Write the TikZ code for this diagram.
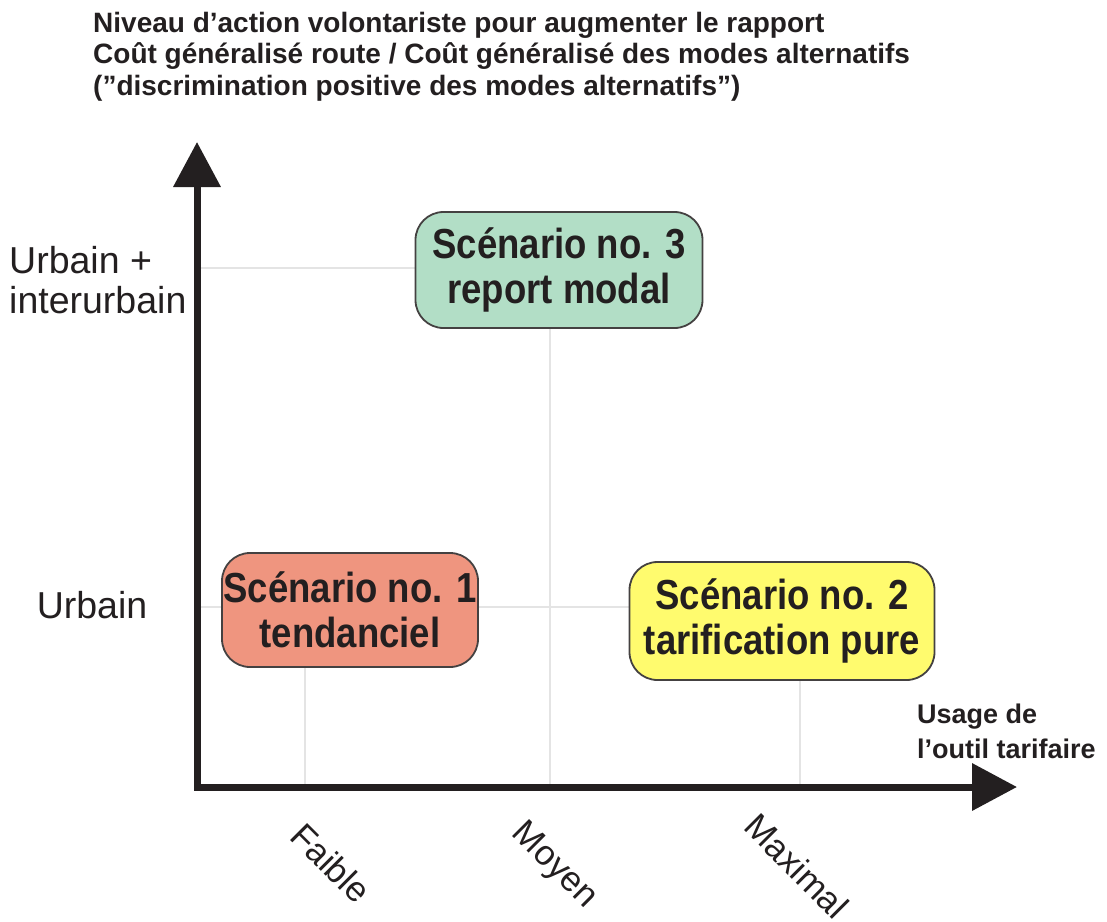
\documentclass[tikz,border=0pt]{standalone}
\usepackage{fontspec}
\setmainfont{Liberation Sans}
\newfontfamily\boxfont{Liberation Sans}[FakeStretch=0.87]
\usetikzlibrary{arrows.meta}
\definecolor{ink}{HTML}{231F20}
\definecolor{gridgray}{HTML}{E4E4E4}
\definecolor{salmon}{HTML}{EF957F}
\definecolor{lemon}{HTML}{FFFB6E}
\definecolor{mint}{HTML}{B2DEC6}
\begin{document}
\begin{tikzpicture}[x=1pt,y=-1pt,
  every node/.style={text=ink, inner sep=0pt},
  gridline/.style={draw=gridgray, line width=1.5pt},
  axis/.style={draw=ink, line width=7pt, line join=miter,
    arrows={Triangle[length=45pt,width=46pt]-Triangle[length=45pt,width=46pt]}},
  scen/.style={draw=ink!85, line width=1.8pt, rounded corners=28pt, align=center,
    font=\boxfont\bfseries\fontsize{42}{45}\selectfont},
  levellabel/.style={font=\fontsize{37.5}{40}\selectfont},
  ticklabel/.style={rotate=-45, font=\fontsize{35}{38}\selectfont},
  boldlabel/.style={align=left, font=\bfseries\fontsize{28}{31.5}\selectfont}
]
\useasboundingbox (0,0) rectangle (1107,921);

% grid
\coordinate (O) at (197,787);
\coordinate (Ytip) at (197,142);
\coordinate (Xtip) at (1017,787);
\coordinate (gA1) at (197,268);
\coordinate (gA2) at (550,268);
\coordinate (gB1) at (197,607);
\coordinate (gB2) at (800,607);
\coordinate (v1t) at (305,607);
\coordinate (v1b) at (305,787);
\coordinate (v2b) at (550,787);
\coordinate (v3b) at (800,787);
\draw[gridline] (gA1) -- (gA2);
\draw[gridline] (gB1) -- (gB2);
\draw[gridline] (v1t) -- (v1b);
\draw[gridline] (gA2) -- (v2b);
\draw[gridline] (gB2) -- (v3b);

% scenario boxes
\node[scen, fill=salmon, minimum width=256pt, minimum height=114pt] (s1) at (350,610) {Scénario no. 1\\tendanciel};
\node[scen, fill=lemon, minimum width=305pt, minimum height=118pt] (s2) at (782,621) {Scénario no. 2\\tarification pure};
\node[scen, fill=mint, minimum width=287pt, minimum height=116pt] (s3) at (559,270) {Scénario no. 3\\report modal};

% axes
\draw[axis] (Ytip) -- (O) -- (Xtip);

% title
\node[boldlabel, anchor=north west] (title) at (93,12) {Niveau d’action volontariste pour augmenter le rapport\\Coût généralisé route / Coût généralisé des modes alternatifs\\(”discrimination positive des modes alternatifs”)};

% x axis label
\node[align=left, anchor=north west, font=\bfseries\fontsize{27}{35}\selectfont] (xlab) at (917,704) {Usage de\\l’outil tarifaire};

% y levels
\node[levellabel, align=left, anchor=north west] (ylev2) at (9,246) {Urbain +\\interurbain};
\node[levellabel, anchor=base] (ylev1) at (92,618) {Urbain};

% x levels
\node[ticklabel] (t1) at (331,863) {Faible};
\node[ticklabel] (t2) at (554,866) {Moyen};
\node[ticklabel] (t3) at (797,866) {Maximal};
\end{tikzpicture}
\end{document}
